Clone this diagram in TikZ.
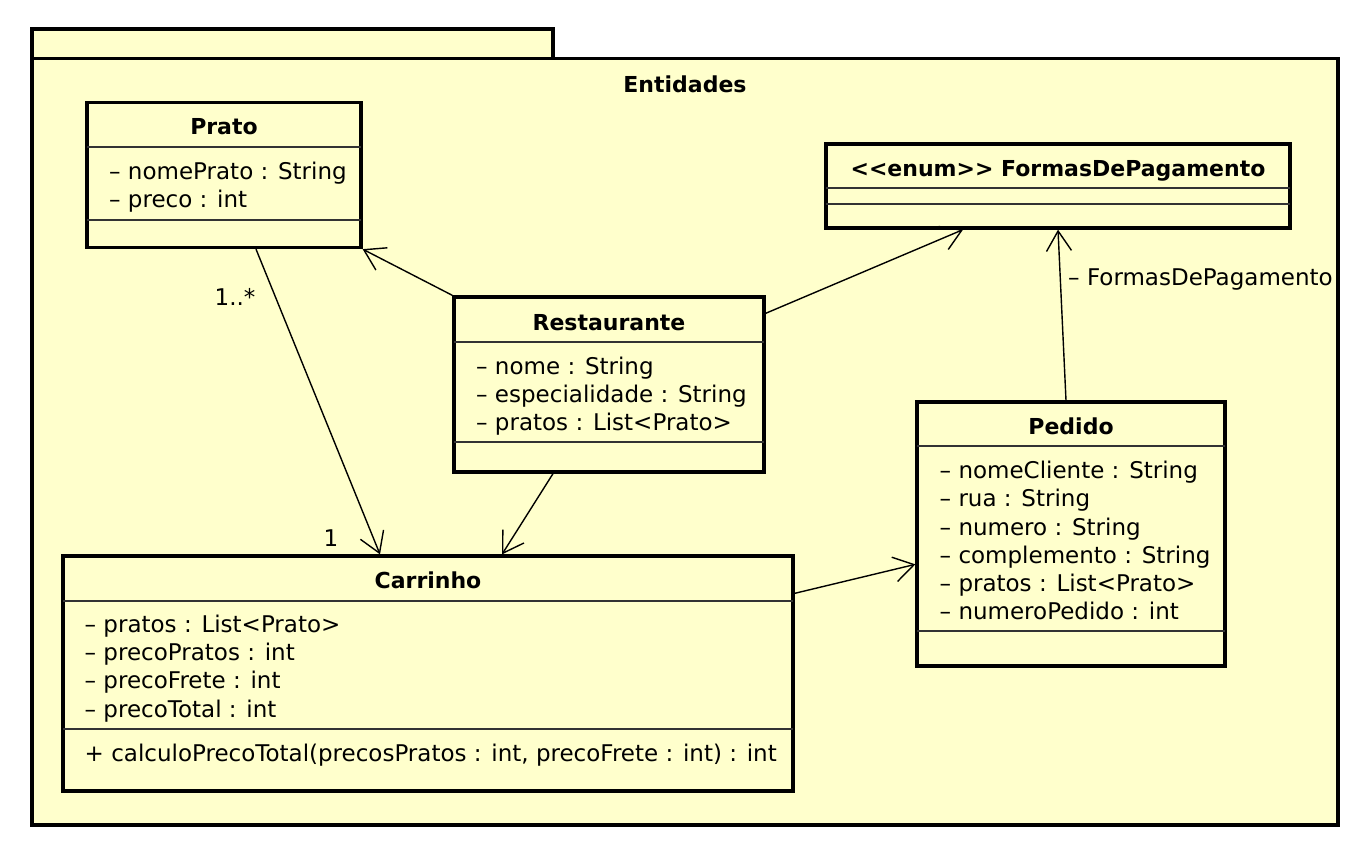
\documentclass[tikz,border=0pt]{standalone}
\usepackage{fontspec}
\setmainfont{DejaVu Sans}
\usepackage{xcolor}
\usetikzlibrary{positioning,calc,arrows.meta}

\definecolor{umlyellow}{HTML}{FFFFCC}

\tikzset{
    umlbox/.style={draw, line width=3.3pt, fill=umlyellow, rectangle, inner sep=0pt},
    divider/.style={line width=1.3pt, draw=black!80},
    assoc/.style={line width=1.4pt, -{Straight Barb[length=20pt,width=25pt]}},
    classname/.style={font=\fontsize{22}{26}\selectfont\bfseries, anchor=base, inner sep=0pt},
    attr/.style={font=\fontsize{23}{28}\selectfont, anchor=base west, inner sep=0pt},
    mult/.style={font=\fontsize{23}{28}\selectfont, anchor=base, inner sep=0pt}
}

\begin{document}
\begin{tikzpicture}[x=1pt, y=-1pt]
    \useasboundingbox (0,0) rectangle (1358,848);

    % package Entidades
    \draw[umlbox] (32,29) rectangle (553,58.5);
    \draw[umlbox] (32,58.5) rectangle (1338,825);
    \node[classname] (pkgname) at (685,92.5) {Entidades};

    % classes
    \node[umlbox, minimum width=274pt, minimum height=145pt] (prato) at (224,175) {};
    \node[umlbox, minimum width=464pt, minimum height=84pt] (formas) at (1058,186) {};
    \node[umlbox, minimum width=310pt, minimum height=175pt] (restaurante) at (609,384.5) {};
    \node[umlbox, minimum width=308pt, minimum height=264pt] (pedido) at (1071,534) {};
    \node[umlbox, minimum width=730pt, minimum height=235pt] (carrinho) at (428,673.5) {};

    % Prato
    \draw[divider] (87,147) -- (361,147);
    \draw[divider] (87,220) -- (361,220);
    \node[classname] (prato-name) at (224,135) {Prato};
    \node[attr] (prato-a1) at (109,179.5) {– nomePrato : String};
    \node[attr] (prato-a2) at (109,207.5) {– preco : int};

    % FormasDePagamento
    \draw[divider] (826,188) -- (1290,188);
    \draw[divider] (826,204) -- (1290,204);
    \node[classname] (formas-name) at (1058,176) {<{}<enum>{}> FormasDePagamento};

    % Restaurante
    \draw[divider] (454,342) -- (764,342);
    \draw[divider] (454,442) -- (764,442);
    \node[classname] (restaurante-name) at (609,330) {Restaurante};
    \node[attr] (restaurante-a1) at (476,374) {– nome : String};
    \node[attr] (restaurante-a2) at (476,402) {– especialidade : String};
    \node[attr] (restaurante-a3) at (476,430) {– pratos : List<Prato>};

    % Pedido
    \draw[divider] (917,446) -- (1225,446);
    \draw[divider] (917,631) -- (1225,631);
    \node[classname] (pedido-name) at (1071,434) {Pedido};
    \node[attr] (pedido-a1) at (939.5,478) {– nomeCliente : String};
    \node[attr] (pedido-a2) at (939.5,506.5) {– rua : String};
    \node[attr] (pedido-a3) at (939.5,535) {– numero : String};
    \node[attr] (pedido-a4) at (939.5,563) {– complemento : String};
    \node[attr] (pedido-a5) at (939.5,591) {– pratos : List<Prato>};
    \node[attr] (pedido-a6) at (939.5,619) {– numeroPedido : int};

    % Carrinho
    \draw[divider] (63,601) -- (793,601);
    \draw[divider] (63,729) -- (793,729);
    \node[classname] (carrinho-name) at (428,588) {Carrinho};
    \node[attr] (carrinho-a1) at (84.5,632) {– pratos : List<Prato>};
    \node[attr] (carrinho-a2) at (84.5,660.5) {– precoPratos : int};
    \node[attr] (carrinho-a3) at (84.5,688.5) {– precoFrete : int};
    \node[attr] (carrinho-a4) at (84.5,717) {– precoTotal : int};
    \node[attr] (carrinho-m1) at (84.5,761) {+ calculoPrecoTotal(precosPratos : int, precoFrete : int) : int};

    % associations
    \draw[assoc] (restaurante.north west) -- (prato.south east);
    \draw[assoc] ($(restaurante.north east)+(0,18)$) -- ($(formas.south)+(-95,0)$);
    \draw[assoc] ($(pedido.north)+(-5,0)$) -- (formas.south);
    \draw[assoc] ($(prato.south)+(32,0)$) -- ($(carrinho.north)+(-48,0)$);
    \draw[assoc] ($(restaurante.south)+(-56,0)$) -- ($(carrinho.north)+(74,0)$);
    \draw[assoc] ($(carrinho.north east)+(0,39)$) -- ($(pedido.north west)+(0,164)$);

    % labels
    \node[mult] (mult-prato) at (235,305) {1..*};
    \node[mult] (mult-carrinho) at (331,546) {1};
    \node[attr] (formas-role) at (1068,285) {– FormasDePagamento};
\end{tikzpicture}
\end{document}
